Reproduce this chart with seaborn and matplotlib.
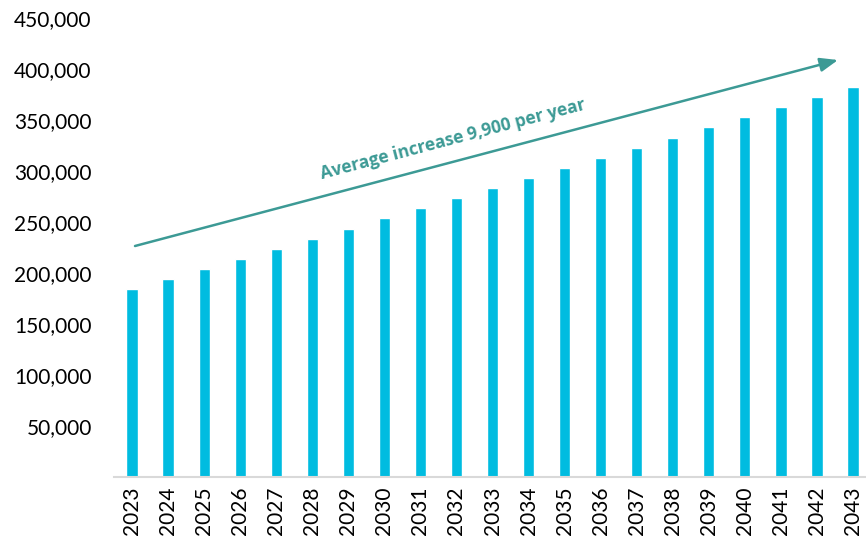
import numpy as np
import pandas as pd
import matplotlib
matplotlib.use('Agg')
import matplotlib.pyplot as plt
import seaborn as sns
from matplotlib.ticker import FuncFormatter

years = ["2023", "2024", "2025", "2026", "2027", "2028", "2029", "2030", "2031", "2032", "2033",
         "2034", "2035", "2036", "2037", "2038", "2039", "2040", "2041", "2042", "2043"]
values = [184800, 194000, 203800, 213700, 223600, 233500, 243400, 253800, 263700, 273600, 283500,
          293300, 303200, 313100, 323000, 332800, 342700, 352600, 362500, 372700, 382600]
y_ticks = [50000, 100000, 150000, 200000, 250000, 300000, 350000, 400000, 450000]
note = "Average increase 9,900 per year"

bar_color = "#00BCE0"
arrow_color = "#3C9A95"

df = pd.DataFrame({"Year": years, "Value": values})

sns.set_theme(style="white")
plt.rcParams['font.family'] = ['Lato', 'DejaVu Sans']

fig = plt.figure(figsize=(8.66, 5.41), dpi=100)
ax = fig.add_axes([114 / 866, 1 - 477 / 541, 1 - 114 / 866, (477 - 18) / 541])

sns.barplot(data=df, x="Year", y="Value", color=bar_color, width=0.31,
            saturation=1, ax=ax)

ax.set_xlim(-0.5, 20.36)
ax.set_ylim(0, 450000)
ax.set_yticks(y_ticks)
ax.yaxis.set_major_formatter(FuncFormatter(lambda v, p: f"{int(v):,}"))
ax.set_xlabel("")
ax.set_ylabel("")
ax.tick_params(axis="x", labelrotation=90, labelsize=15, length=0, pad=7, colors="black")
ax.tick_params(axis="y", labelsize=15, length=0, pad=16, colors="black")

for side in ["top", "right", "left"]:
    ax.spines[side].set_visible(False)
ax.spines["bottom"].set_color("#D9D9D9")
ax.spines["bottom"].set_linewidth(1.5)

# trend arrow (figure pixel fractions)
ax.annotate("", xy=(838 / 866, 1 - 60 / 541), xytext=(135 / 866, 1 - 246 / 541),
            xycoords="figure fraction", textcoords="figure fraction",
            arrowprops=dict(arrowstyle="-|>,head_length=0.9,head_width=0.35",
                            color=arrow_color, lw=1.8, shrinkA=0, shrinkB=0))
fig.text(453 / 866, 1 - 139 / 541, note, color=arrow_color, fontsize=12.5,
         fontweight="bold", family=["Open Sans", "DejaVu Sans"], rotation=14.8,
         ha="center", va="center", rotation_mode="anchor")

plt.savefig("out.png", dpi=100)
